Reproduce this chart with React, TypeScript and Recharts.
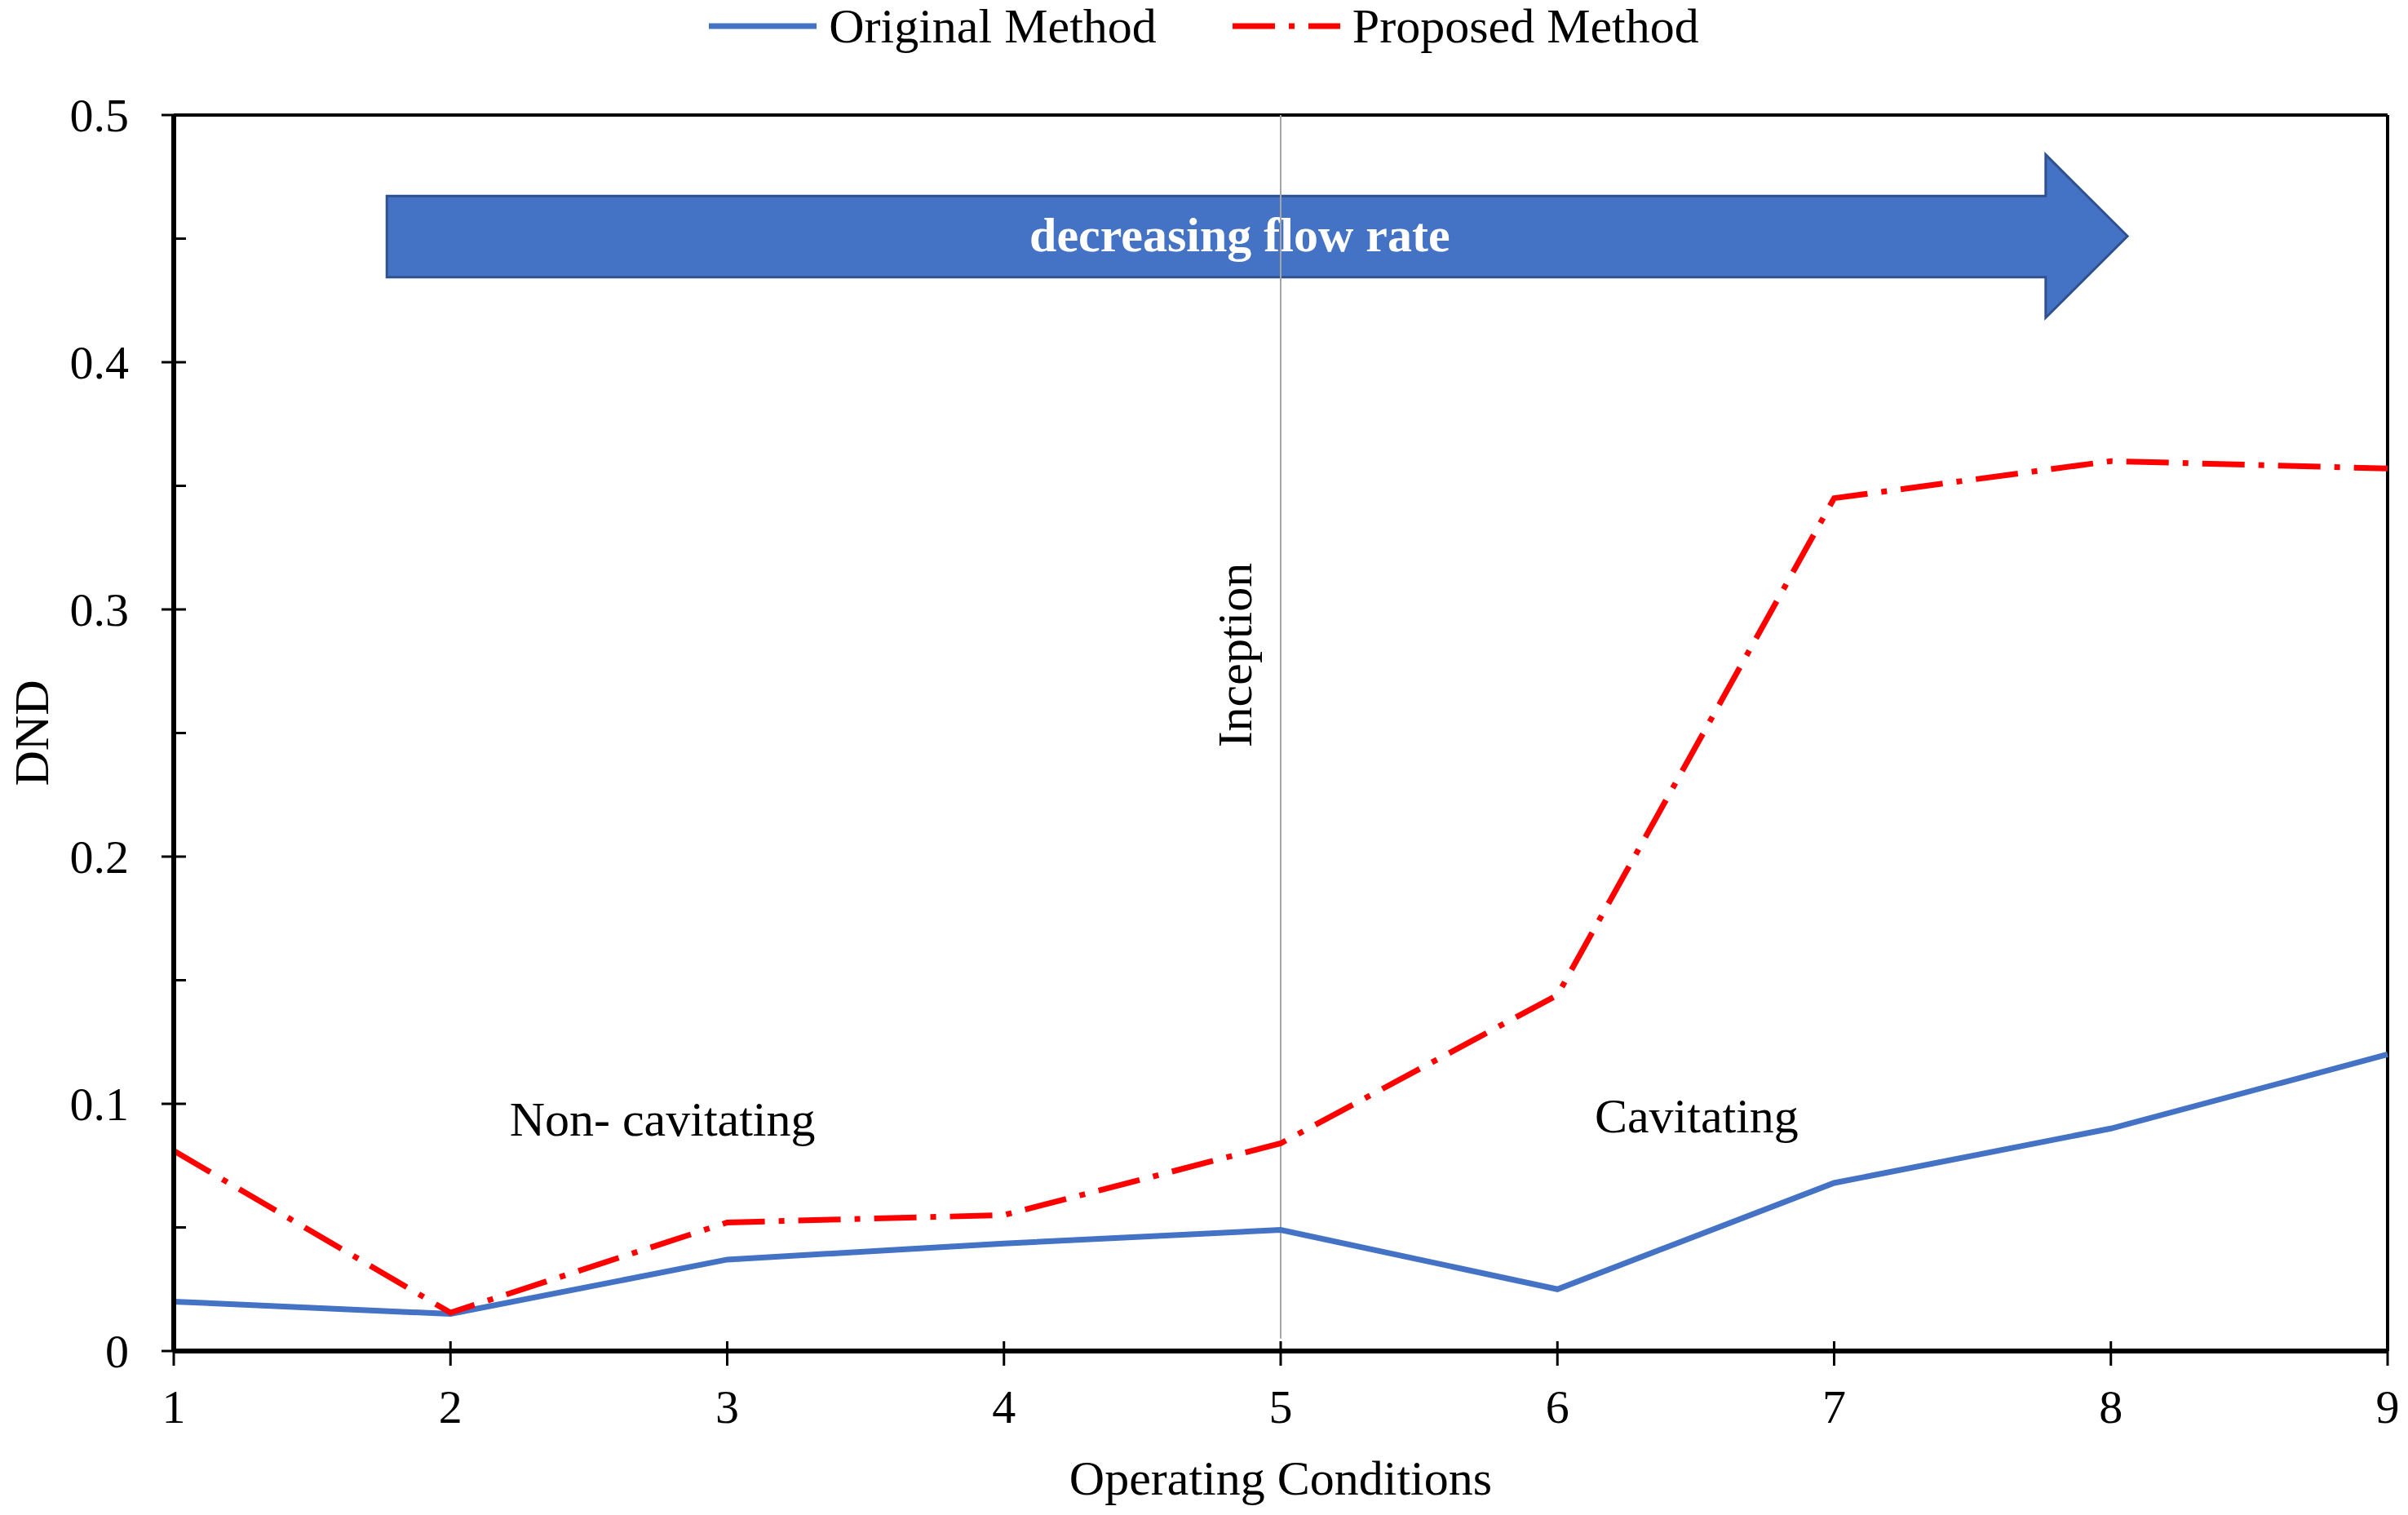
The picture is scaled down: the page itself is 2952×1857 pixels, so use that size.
import { LineChart, Line, XAxis, YAxis, Legend, ReferenceLine, ReferenceArea, ReferenceDot } from 'recharts'

const conditions = [1, 2, 3, 4, 5, 6, 7, 8, 9]
const originalMethod = [0.02, 0.015, 0.037, 0.0435, 0.049, 0.025, 0.068, 0.09, 0.12]
const proposedMethod = [0.081, 0.0155, 0.052, 0.055, 0.084, 0.144, 0.345, 0.36, 0.357]
const yTicks = [0, 0.05, 0.1, 0.15, 0.2, 0.25, 0.3, 0.35, 0.4, 0.45, 0.5]

const FONT = '"Liberation Serif", "Times New Roman", serif'
const BLUE = '#4472C4'
const RED = '#FF0000'
const DASH = '52 17 7 17'

const rows = conditions.map((c, i) => ({ c, original: originalMethod[i], proposed: proposedMethod[i] }))

function XTick({ x, y, payload }: any) {
  return (
    <g>
      <line x1={x} x2={x} y1={y - 12} y2={y + 18} stroke="#000" strokeWidth={3} />
      <text x={x} y={y + 68} dy="0.35em" textAnchor="middle" fontFamily={FONT} fontSize={58} fill="#000">
        {payload.value}
      </text>
    </g>
  )
}

function YTick({ x, y, payload }: any) {
  const v = payload.value
  const major = Math.abs(Math.round(v * 10) - v * 10) < 1e-6
  if (!major) return <line x1={x} x2={x + 15} y1={y} y2={y} stroke="#000" strokeWidth={3} />
  return (
    <g>
      <line x1={x - 15} x2={x + 15} y1={y} y2={y} stroke="#000" strokeWidth={3} />
      <text x={x - 55} y={y} dy="0.35em" textAnchor="end" fontFamily={FONT} fontSize={58} fill="#000">
        {v === 0 ? '0' : v.toFixed(1)}
      </text>
    </g>
  )
}

// big arrow: body is the middle half of the box, head takes the last ~5%
function FlowArrow({ x, y, width, height }: any) {
  const bt = y + height * 0.254
  const bb = y + height * 0.751
  const hx = x + width * 0.953
  const pts = [
    [x, bt], [hx, bt], [hx, y], [x + width, y + height / 2],
    [hx, y + height], [hx, bb], [x, bb],
  ].map(p => p.join(',')).join(' ')
  return (
    <g>
      <polygon points={pts} fill={BLUE} stroke="#2F528F" strokeWidth={3} />
      <text x={x + width * 0.49} y={(bt + bb) / 2} dy="0.3em" textAnchor="middle" fontFamily={FONT}
        fontSize={60} fontWeight="bold" fill="#fff">decreasing flow rate</text>
    </g>
  )
}

function LegendContent() {
  const item = (color: string, dash: string | undefined, label: string) => (
    <div style={{ display: 'flex', alignItems: 'center' }}>
      <svg width={132} height={12} style={{ marginRight: 15 }}>
        <line x1={0} x2={132} y1={6} y2={6} stroke={color} strokeWidth={7} strokeDasharray={dash} />
      </svg>
      <span>{label}</span>
    </div>
  )
  return (
    <div style={{ display: 'flex', justifyContent: 'center', gap: 93, fontFamily: FONT, fontSize: 60, lineHeight: '64px', color: '#000' }}>
      {item(BLUE, undefined, 'Original Method')}
      {item(RED, DASH, 'Proposed Method')}
    </div>
  )
}

export default function App() {
  return (
    <div style={{ width: 2952, height: 1857, background: '#fff' }}>
      <style>{'body{margin:0}'}</style>
      <LineChart width={2952} height={1857} data={rows} margin={{ top: 77, right: 25, bottom: 0, left: 0 }}>
        <XAxis dataKey="c" type="number" domain={[1, 9]} ticks={conditions} interval={0}
          height={201} tickSize={0} tickMargin={0} tick={<XTick />}
          axisLine={{ stroke: '#000', strokeWidth: 6 }} tickLine={false}
          label={{
            content: ({ viewBox }: any) => (
              <text x={viewBox.x + viewBox.width / 2} y={viewBox.y + 176} textAnchor="middle"
                fontFamily={FONT} fontSize={60} fill="#000">Operating Conditions</text>
            ),
          }} />
        <YAxis type="number" domain={[0, 0.5]} ticks={yTicks} interval={0} width={213}
          tickSize={0} tickMargin={0} tick={<YTick />}
          axisLine={{ stroke: '#000', strokeWidth: 6 }} tickLine={false}
          label={{
            content: ({ viewBox }: any) => {
              const cx = viewBox.x + 38
              const cy = viewBox.y + viewBox.height / 2
              return (
                <text x={cx} y={cy} dy="0.35em" textAnchor="middle" transform={`rotate(-90 ${cx} ${cy})`}
                  fontFamily={FONT} fontSize={60} fill="#000">DND</text>
              )
            },
          }} />
        <Legend verticalAlign="top" content={<LegendContent />} wrapperStyle={{ top: 0, left: 0, width: 2952 }} />
        <ReferenceLine y={0.5} stroke="#000" strokeWidth={4} />
        <ReferenceLine x={9} stroke="#000" strokeWidth={4} />
        <ReferenceLine segment={[{ x: 5, y: 0.005 }, { x: 5, y: 0.5 }]} stroke="#A6A6A6" strokeWidth={2} />
        <ReferenceArea x1={1.77} x2={8.06} y1={0.418} y2={0.484} shape={<FlowArrow />} />
        <ReferenceDot x={2.766} y={0.094} r={0} fill="none" stroke="none"
          label={{ value: 'Non- cavitating', position: 'center', fontFamily: FONT, fontSize: 60, fill: '#000' }} />
        <ReferenceDot x={6.503} y={0.0954} r={0} fill="none" stroke="none"
          label={{ value: 'Cavitating', position: 'center', fontFamily: FONT, fontSize: 60, fill: '#000' }} />
        <ReferenceDot x={4.832} y={0.2815} r={0} fill="none" stroke="none"
          label={{ value: 'Inception', position: 'center', angle: -90, fontFamily: FONT, fontSize: 60, fill: '#000' }} />
        <Line type="linear" dataKey="original" name="Original Method" stroke={BLUE} strokeWidth={7}
          dot={false} activeDot={false} isAnimationActive={false} />
        <Line type="linear" dataKey="proposed" name="Proposed Method" stroke={RED} strokeWidth={7}
          strokeDasharray={DASH} dot={false} activeDot={false} isAnimationActive={false} />
      </LineChart>
    </div>
  )
}
